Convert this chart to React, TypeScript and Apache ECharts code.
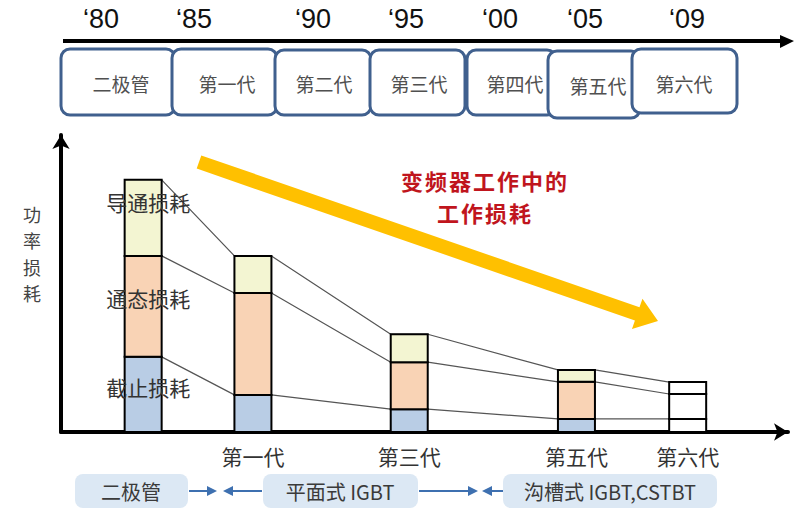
import React, { useEffect, useRef } from "react";
import * as echarts from "echarts";

// ---------------- data ----------------
const generations = ["二极管", "第一代", "第三代", "第五代", "第六代"];
const axisLabels = ["", "第一代", "第三代", "第五代", "第六代"];
// relative position of each generation along the time axis (0 – 100)
const timelinePos = [11.3, 26.4, 47.9, 70.9, 86.2];
const cutoffLoss = [25.3, 12.5, 7.7, 4.4, 4.4]; // 截止损耗
const onStateLoss = [34.0, 34.3, 15.8, 12.5, 8.4]; // 通态损耗
const conductionLoss = [25.6, 12.5, 9.4, 4.0, 4.0]; // 导通损耗
const lossNames = ["截止损耗", "通态损耗", "导通损耗"];
const years = ["‘80", "‘85", "‘90", "‘95", "‘00", "‘05", "‘09"];
const eraBoxes = ["二极管", "第一代", "第二代", "第三代", "第四代", "第五代", "第六代"];
const techStages = ["二极管", "平面式 IGBT", "沟槽式 IGBT,CSTBT"];
const yAxisTitle = "功率损耗";
const trendText = ["变频器工作中的", "工作损耗"];

// ---------------- layout / style ----------------
const W = 800;
const GRID = { left: 61, right: 12, top: 135, bottom: 79 };
const BAR_W = 37;
const CJK = "'Noto Sans CJK SC', 'Noto Sans', sans-serif";
const LATIN = "'Liberation Sans', Arial, sans-serif";
const segColors = ["#b9cde5", "#f9d3b5", "#f3f5d2"];
const labelOffsets = [
  [5, -7],
  [5, -8],
  [5, -16],
];
const YEAR_X = [101, 194, 313, 406, 500, 585, 687];
const TOP_BOX = [
  [61, 49, 114, 66],
  [172, 49, 105, 66],
  [275, 50, 96, 65],
  [370, 50, 95, 65],
  [467, 50, 89, 65],
  [548, 51, 92, 67],
  [632, 49, 105, 64],
];
const TOP_TEXT_X = [121, 227, 324, 419, 515, 598, 684];
const BOTTOM_BOX = [
  [75, 474, 113, 34],
  [263, 474, 155, 34],
  [503, 474, 214, 34],
];
const BOTTOM_TEXT_X = [131, 340, 610];

function textEl(text: string, x: number, y: number, size: number, color: string, family: string, weight: string | number = "normal", extra: any = {}) {
  return {
    type: "text",
    x,
    y,
    style: {
      text,
      fill: color,
      fontSize: size,
      fontFamily: family,
      fontWeight: weight,
      align: "center",
      verticalAlign: "middle",
      textAlign: "center",
      textVerticalAlign: "middle",
      ...extra,
    },
  };
}

function buildOption() {
  const gridW = W - GRID.left - GRID.right;
  const hw = (BAR_W / 2) / (gridW / 100);

  const stacks = [cutoffLoss, onStateLoss, conductionLoss];
  const cum: number[][] = [];
  stacks.forEach((arr, s) => {
    cum.push(arr.map((v, i) => v + (s > 0 ? cum[s - 1][i] : 0)));
  });

  const barSeries = stacks.map((arr, s) => ({
    type: "custom",
    name: lossNames[s],
    z: 3,
    silent: true,
    encode: { x: 0, y: [1, 2] },
    data: arr.map((v, i) => [timelinePos[i], cum[s][i] - v, cum[s][i], i]),
    renderItem: (params: any, api: any) => {
      const x = api.value(0);
      const lo = api.value(1);
      const hi = api.value(2);
      const i = api.value(3);
      const p0 = api.coord([x, lo]);
      const p1 = api.coord([x, hi]);
      const children: any[] = [
        {
          type: "rect",
          shape: { x: p0[0] - BAR_W / 2, y: p1[1], width: BAR_W, height: p0[1] - p1[1] },
          style: {
            fill: i === generations.length - 1 ? "#ffffff" : segColors[s],
            stroke: "#000",
            lineWidth: 2,
          },
        },
      ];
      if (i === 0) {
        children.push(
          textEl(lossNames[s], p0[0] + labelOffsets[s][0], (p0[1] + p1[1]) / 2 + labelOffsets[s][1], 21, "#333", CJK)
        );
      }
      if (s === 0 && axisLabels[i]) {
        children.push(textEl(axisLabels[i], p0[0], p0[1] + 24, 21, "#333", CJK));
      }
      return { type: "group", children };
    },
  }));

  const lineSeries = cum.map((c, s) => ({
    type: "line",
    name: lossNames[s] + "-trend",
    symbol: "none",
    silent: true,
    z: 2,
    lineStyle: { color: "#555", width: 1.2 },
    data: c.flatMap((v, i) => [
      [timelinePos[i] - hw, v],
      [timelinePos[i] + hw, v],
    ]),
  }));

  // yellow trend arrow
  const start = [199, 162];
  const tip = [658, 321];
  const dx = tip[0] - start[0];
  const dy = tip[1] - start[1];
  const L = Math.hypot(dx, dy);
  const u = [dx / L, dy / L];
  const n = [-u[1], u[0]];
  const neck = [start[0] + u[0] * (L - 22), start[1] + u[1] * (L - 22)];
  const bw = 7;
  const hwid = 16;
  const pt = (p: number[], k: number) => [p[0] + n[0] * k, p[1] + n[1] * k];
  const arrowPts = [pt(start, -bw), pt(neck, -bw), pt(neck, -hwid), tip, pt(neck, hwid), pt(neck, bw), pt(start, bw)];

  const graphic: any[] = [];
  // top timeline
  graphic.push({ type: "line", shape: { x1: 63, y1: 41, x2: 784, y2: 41 }, style: { stroke: "#000", lineWidth: 4 } });
  graphic.push({ type: "polygon", shape: { points: [[780, 35], [794, 41], [780, 48]] }, style: { fill: "#000" } });
  years.forEach((y, i) => graphic.push(textEl(y, YEAR_X[i], 19, 27, "#111", LATIN)));
  eraBoxes.forEach((t, i) => {
    const b = TOP_BOX[i];
    graphic.push({
      type: "rect",
      shape: { x: b[0], y: b[1], width: b[2], height: b[3], r: 9 },
      style: { fill: "#fff", stroke: "#40608e", lineWidth: 3 },
    });
  });
  eraBoxes.forEach((t, i) => {
    graphic.push(textEl(t, TOP_TEXT_X[i], i === 5 ? 85 : 83, 19, "#505050", CJK));
  });

  // y axis title (vertical, one character per line)
  const titleChars = yAxisTitle.split("");
  const titlePitch = 26.2;
  titleChars.forEach((ch, k) => {
    graphic.push(textEl(ch, 32, 253.5 + (k - (titleChars.length - 1) / 2) * titlePitch, 18, "#444", CJK));
  });

  // trend arrow + text (characters spaced like the original)
  graphic.push({ type: "polygon", shape: { points: arrowPts }, style: { fill: "#ffc000" } });
  const charPitch = 24;
  trendText.forEach((line, k) => {
    const chars = line.split("");
    chars.forEach((ch, j) => {
      graphic.push(
        textEl(ch, 484 + (j - (chars.length - 1) / 2) * charPitch, 180 + k * 32, 22, "#c0151d", CJK, "bold")
      );
    });
  });

  // bottom technology row
  techStages.forEach((t, i) => {
    const b = BOTTOM_BOX[i];
    graphic.push({
      type: "rect",
      shape: { x: b[0], y: b[1], width: b[2], height: b[3], r: 8 },
      style: { fill: "#dce8f4" },
    });
    graphic.push(textEl(t, BOTTOM_TEXT_X[i], 491, 20, "#3a3a3a", CJK));
  });
  const blue = "#3e70b0";
  const arrows = [
    { x1: 189, x2: 209, head: [[207, 486], [217, 491], [207, 496]] },
    { x1: 231, x2: 262, head: [[223, 491], [233, 486], [233, 496]] },
    { x1: 419, x2: 470, head: [[468, 486], [478, 491], [468, 496]] },
    { x1: 490, x2: 503, head: [[482, 491], [492, 486], [492, 496]] },
  ];
  arrows.forEach((a) => {
    graphic.push({ type: "line", shape: { x1: a.x1, y1: 491, x2: a.x2, y2: 491 }, style: { stroke: blue, lineWidth: 2 } });
    graphic.push({ type: "polygon", shape: { points: a.head }, style: { fill: blue } });
  });

  return {
    animation: false,
    backgroundColor: "#ffffff",
    grid: { ...GRID, containLabel: false },
    xAxis: {
      type: "value",
      min: 0,
      max: 100,
      axisLabel: { show: false },
      axisTick: { show: false },
      splitLine: { show: false },
      axisLine: {
        show: true,
        symbol: ["none", "arrow"],
        symbolSize: [13, 14],
        lineStyle: { color: "#000", width: 4 },
      },
    },
    yAxis: {
      type: "value",
      min: 0,
      max: 100,
      axisLabel: { show: false },
      axisTick: { show: false },
      splitLine: { show: false },
      axisLine: {
        show: true,
        symbol: ["none", "arrow"],
        symbolSize: [13, 14],
        lineStyle: { color: "#000", width: 4 },
      },
    },
    series: [...lineSeries, ...barSeries],
    graphic,
  };
}

export default function App() {
  const ref = useRef<HTMLDivElement>(null);
  useEffect(() => {
    document.body.style.margin = "0";
    const chart = echarts.init(ref.current!, null, { renderer: "svg" });
    chart.setOption(buildOption() as any);
    return () => chart.dispose();
  }, []);
  return <div ref={ref} style={{ width: 800, height: 511 }} />;
}
